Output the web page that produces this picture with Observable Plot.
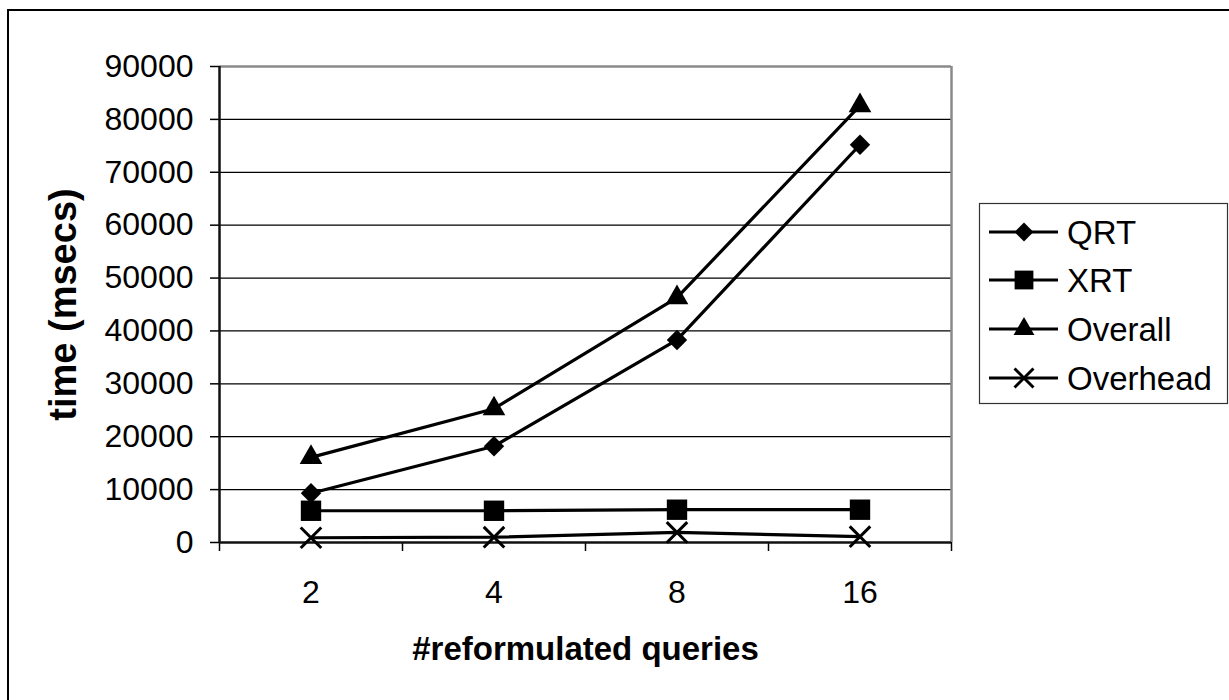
<!DOCTYPE html>
<html>
<head>
<meta charset="utf-8">
<script src="https://cdn.jsdelivr.net/npm/d3@7"></script>
<script src="https://cdn.jsdelivr.net/npm/@observablehq/plot@0.6"></script>
<style>
  html, body { margin: 0; padding: 0; background: #fff; }
  #wrap { position: relative; width: 1229px; height: 700px; overflow: hidden; background: #fff; }
  #border { position: absolute; left: 7px; top: 9px; width: 1400px; height: 900px; border-left: 2px solid #000; border-top: 2px solid #000; box-sizing: border-box; }
  #chart { position: absolute; left: 0; top: 0; }
  #legend { position: absolute; left: 0; top: 0; }
</style>
</head>
<body>
<div id="wrap">
  <div id="border"></div>
  <div id="chart"></div>
  <svg id="legend" width="1229" height="700"></svg>
</div>
<script>
// ---- data ----
const categories = ["2", "4", "8", "16"];
const qrt      = [9300, 18200, 38300, 75200];
const xrt      = [6000, 6000, 6200, 6200];
const overall  = [16100, 25300, 46300, 82600];
const overhead = [900, 1000, 1900, 1100];
const yTicks   = [0, 10000, 20000, 30000, 40000, 50000, 60000, 70000, 80000, 90000];
const seriesNames = ["QRT", "XRT", "Overall", "Overhead"];
const seriesValues = [qrt, xrt, overall, overhead];

const FONT = "'Liberation Sans', Arial, Helvetica, sans-serif";

const rows = [];
seriesNames.forEach((s, si) => {
  seriesValues[si].forEach((v, i) => rows.push({series: s, cat: categories[i], xi: i + 0.5, value: v}));
});
const bySeries = s => rows.filter(r => r.series === s);

const symbolSpec = {
  QRT:      {symbol: "diamond2", r: 9.2, fill: "black", stroke: "none", strokeWidth: 0},
  XRT:      {symbol: "square",   r: 11.5, fill: "black", stroke: "none", strokeWidth: 0},
  Overall:  {symbol: "triangle", r: 8.4, fill: "black", stroke: "none", strokeWidth: 0},
  Overhead: {symbol: "times",    r: 9.4, fill: "none", stroke: "black", strokeWidth: 3}
};

const chart = Plot.plot({
  width: 1229,
  height: 700,
  marginLeft: 219,
  marginRight: 278,
  marginTop: 66,
  marginBottom: 158,
  x: {type: "linear", domain: [0, categories.length]},
  y: {domain: [0, 90000]},
  style: {fontFamily: FONT, fontSize: "32px", color: "black", background: "transparent", overflow: "visible"},
  marks: [
    Plot.ruleY(yTicks.slice(1, -1), {stroke: "black", strokeWidth: 1.2}),
    Plot.ruleY([yTicks[yTicks.length - 1]], {stroke: "#8a8a8a", strokeWidth: 2.5}),
    Plot.ruleX([categories.length], {stroke: "#8a8a8a", strokeWidth: 2.5}),
    Plot.axisY({ticks: yTicks, tickSize: 9, tickPadding: 17, tickFormat: d => String(d), label: null, fontSize: 32, strokeWidth: 1.5}),
    Plot.axisX({ticks: d3.range(categories.length + 1), tickSize: 9, tickFormat: () => "", label: null, strokeWidth: 1.5}),
    Plot.axisX({ticks: categories.map((c, i) => i + 0.5), tickSize: 0, tickPadding: 38, tickFormat: v => categories[Math.floor(v)], label: null, fontSize: 32}),
    Plot.ruleX([0], {stroke: "#111", strokeWidth: 2.5}),
    Plot.ruleY([0], {stroke: "#111", strokeWidth: 2.5}),
    Plot.line(rows, {x: "xi", y: "value", z: "series", stroke: "black", strokeWidth: 3.2}),
    ...seriesNames.map(s => Plot.dot(bySeries(s), {x: "xi", y: "value", ...symbolSpec[s]})),
    Plot.text(["#reformulated queries"], {frameAnchor: "bottom", dy: 117, fontWeight: "bold", fontSize: 33, fill: "black"}),
    Plot.text(["time (msecs)"], {frameAnchor: "left", textAnchor: "middle", dx: -156, rotate: -90, fontWeight: "bold", fontSize: 38, fill: "black"})
  ]
});
document.getElementById("chart").appendChild(chart);

// ---- legend ----
const lg = d3.select("#legend");
lg.append("rect").attr("x", 979.5).attr("y", 203.5).attr("width", 248).attr("height", 200)
  .attr("fill", "white").attr("stroke", "#333").attr("stroke-width", 1.2);
const symMap = {diamond2: d3.symbolDiamond2, square: d3.symbolSquare, triangle: d3.symbolTriangle, times: d3.symbolTimes};
const itemY = [232, 280, 329, 378];
seriesNames.forEach((s, i) => {
  const y = itemY[i];
  const sp = symbolSpec[s];
  lg.append("line").attr("x1", 989).attr("x2", 1058).attr("y1", y).attr("y2", y)
    .attr("stroke", "black").attr("stroke-width", 3.2);
  lg.append("path").attr("transform", `translate(1024,${y})`)
    .attr("d", d3.symbol(symMap[sp.symbol], Math.PI * sp.r * sp.r * 0.85)())
    .attr("fill", sp.fill).attr("stroke", sp.stroke).attr("stroke-width", sp.strokeWidth);
  lg.append("text").attr("x", 1067).attr("y", y).attr("dy", "0.36em")
    .attr("font-family", FONT).attr("font-size", 33).attr("fill", "black").text(s);
});
</script>
</body>
</html>
